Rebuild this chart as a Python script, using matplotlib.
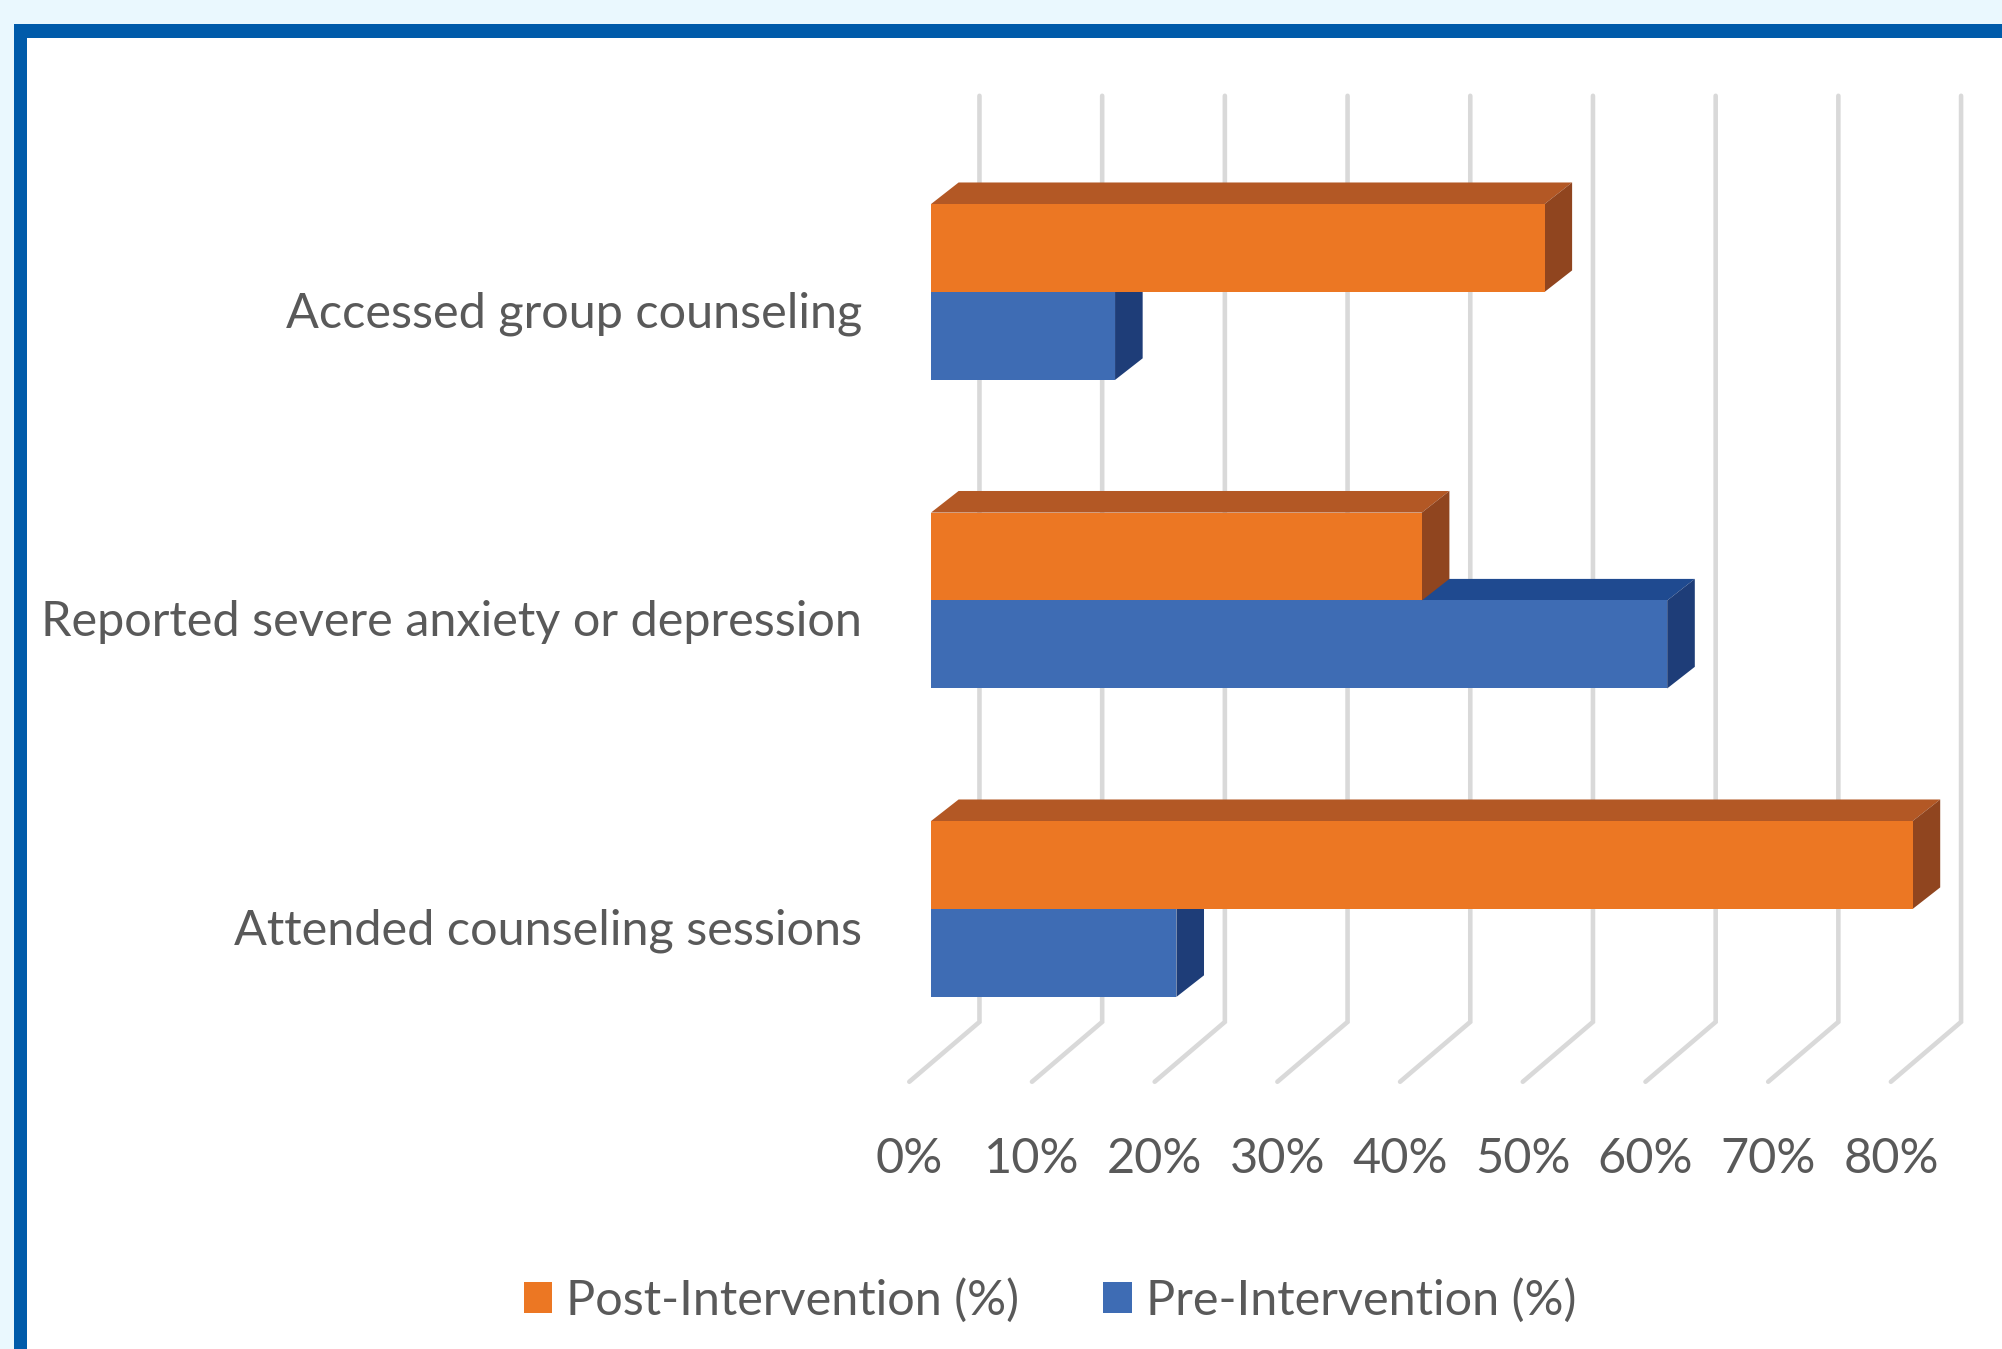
"""Recreate the 3D-look pre/post intervention bar chart with plain matplotlib."""

import matplotlib
matplotlib.use("Agg")
import matplotlib.pyplot as plt
import numpy as np
from matplotlib.patches import Patch, Polygon, Rectangle

plt.rcParams['font.family'] = ['Lato', 'Liberation Sans', 'DejaVu Sans']

# Data
categories = ["Attended counseling sessions",
              "Reported severe anxiety or depression",
              "Accessed group counseling"]
post_values = [80, 40, 50]
pre_values = [20, 60, 15]
grid_values = [0, 10, 20, 30, 40, 50, 60, 70, 80]
tick_labels = ["0%", "10%", "20%", "30%", "40%", "50%", "60%", "70%", "80%"]

# Colours
ORANGE = ("#EC7723", "#B35825", "#90451F")
BLUE = ("#3E6CB4", "#1F4A90", "#1E3D78")
GRID = "#D9D9D9"
TEXT = "#595959"

# Fake depth, in data units
BAR_H = 0.285
DEPTH_X = 2.25
DEPTH_Y = 0.07
GRID_BACK = 3.95
GRID_FRONT = -1.77
FLOOR_BACK = -0.366
FLOOR_FRONT = -0.56
GRID_TOP = 2.636

W, H = 2002, 1349
LABEL_SIZE = 35


def draw_bar(ax, value, y0, colors):
    """Draw one bar as front, top and side faces."""
    front, top, side = colors
    y1 = y0 + BAR_H
    ax.add_patch(Polygon([(0, y1), (DEPTH_X, y1 + DEPTH_Y), (value + DEPTH_X, y1 + DEPTH_Y), (value, y1)],
                         facecolor=top, edgecolor="none", zorder=3))
    ax.add_patch(Polygon([(value, y0), (value + DEPTH_X, y0 + DEPTH_Y), (value + DEPTH_X, y1 + DEPTH_Y), (value, y1)],
                         facecolor=side, edgecolor="none", zorder=3))
    ax.add_patch(Rectangle((0, y0), value, BAR_H, facecolor=front, edgecolor="none", zorder=3))


fig = plt.figure(figsize=(W / 100, H / 100), dpi=100, facecolor="#EAF8FE")

# Blue framed panel, runs off the right and bottom edges
fig.add_artist(Rectangle((14 / W, 0), 1, 1 - 24 / H, transform=fig.transFigure,
                         facecolor="#005BAA", edgecolor="none", zorder=-2))
fig.add_artist(Rectangle((27 / W, 0), 1, 1 - 38 / H, transform=fig.transFigure,
                         facecolor="white", edgecolor="none", zorder=-1))

# Axes box is placed so that x=0 is the bars' front edge
px_per_x = 12.27
px_per_y = 308.5
x_left, x_right = -3.0, 90.0
left_px = 931 + x_left * px_per_x
right_px = 931 + x_right * px_per_x
bottom_px = 909 - FLOOR_FRONT * px_per_y
top_px = 909 - GRID_TOP * px_per_y
ax = fig.add_axes([left_px / W, 1 - bottom_px / H, (right_px - left_px) / W, (bottom_px - top_px) / H])
ax.set_xlim(x_left, x_right)
ax.set_ylim(FLOOR_FRONT, GRID_TOP)
ax.patch.set_alpha(0)
for spine in ax.spines.values():
    spine.set_visible(False)

# Wall and floor gridlines, one more than the labels
for v in grid_values + [90]:
    ax.plot([v + GRID_FRONT, v + GRID_BACK, v + GRID_BACK],
            [FLOOR_FRONT, FLOOR_BACK, GRID_TOP],
            color=GRID, lw=3.3, solid_joinstyle="miter", solid_capstyle="round", zorder=1, clip_on=False)

# Pre drawn first so the post bar sits on top of it
y_pos = np.arange(len(categories))
for y, post, pre in zip(y_pos, post_values, pre_values):
    draw_bar(ax, pre, y - BAR_H, BLUE)
    draw_bar(ax, post, y, ORANGE)

ax.set_xticks(np.array(grid_values) + GRID_FRONT)
ax.set_xticklabels(tick_labels, fontsize=LABEL_SIZE, color=TEXT)
ax.set_yticks(y_pos - 0.058)
ax.set_yticklabels(categories, fontsize=LABEL_SIZE, color=TEXT)
ax.tick_params(axis="x", length=0, pad=40)
ax.tick_params(axis="y", length=0, pad=23)

handles = [Patch(facecolor=ORANGE[0], label="Post-Intervention (%)"),
           Patch(facecolor=BLUE[0], label="Pre-Intervention (%)")]
fig.legend(handles=handles, loc="center", bbox_to_anchor=(1050 / W, 1 - 1300 / H), ncol=2,
           frameon=False, fontsize=LABEL_SIZE, labelcolor=TEXT, handlelength=0.58, handleheight=0.6,
           handletextpad=0.29, columnspacing=1.73)

fig.savefig("out.png", dpi=100, facecolor=fig.get_facecolor())
